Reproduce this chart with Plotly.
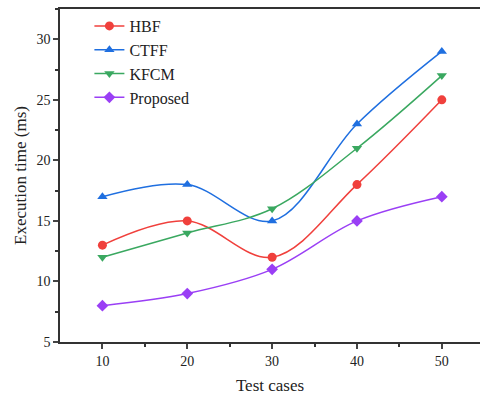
import plotly.graph_objects as go

test_cases = [10, 20, 30, 40, 50]
hbf = [13, 15, 12, 18, 25]
ctff = [17, 18, 15, 23, 29]
kfcm = [12, 14, 16, 21, 27]
proposed = [8, 9, 11, 15, 17]

series = [
    ("HBF", hbf, "#F0403C", "circle"),
    ("CTFF", ctff, "#1F6FE0", "triangle-up"),
    ("KFCM", kfcm, "#3AA860", "triangle-down"),
    ("Proposed", proposed, "#9A3FF5", "diamond"),
]

fig = go.Figure()
for name, vals, color, sym in series:
    fig.add_trace(go.Scatter(
        x=test_cases, y=vals, name=name, mode="lines+markers",
        line=dict(color=color, width=1.5, shape="spline", smoothing=1.0),
        marker=dict(color=color, symbol=sym, size=9),
    ))

font = "Liberation Serif"
fig.update_layout(
    width=480, height=395,
    margin=dict(l=60, r=0, t=9, b=53),
    paper_bgcolor="white", plot_bgcolor="white",
    font=dict(family=font, size=14, color="#222"),
    showlegend=True,
    legend=dict(x=0.07, y=1.0, xanchor="left", yanchor="top",
                bgcolor="rgba(0,0,0,0)", font=dict(size=16, family=font),
                tracegroupgap=0),
    xaxis=dict(range=[5, 54.5], tickvals=test_cases, ticks="outside", ticklen=5,
               tickwidth=1.5, showline=True, linecolor="#333", linewidth=1.5,
               mirror=True, showgrid=False, zeroline=False,
               tickfont=dict(size=14, family=font),
               minor=dict(tickvals=[15, 25, 35, 45], ticks="outside", ticklen=3, tickwidth=1.5, tickcolor="#333"),
               title=dict(text="Test cases", font=dict(size=17, family=font), standoff=12)),
    yaxis=dict(range=[5, 32.5], tickvals=[5, 10, 15, 20, 25, 30], ticks="outside", ticklen=5,
               tickwidth=1.5, showline=True, linecolor="#333", linewidth=1.5,
               mirror=False, showgrid=False, zeroline=False,
               tickfont=dict(size=14, family=font),
               minor=dict(tickvals=[7.5, 12.5, 17.5, 22.5, 27.5, 32.5], ticks="outside", ticklen=3, tickwidth=1.5, tickcolor="#333"),
               title=dict(text="Execution time (ms)", font=dict(size=17, family=font), standoff=6)),
)
fig.write_html("out.html")
